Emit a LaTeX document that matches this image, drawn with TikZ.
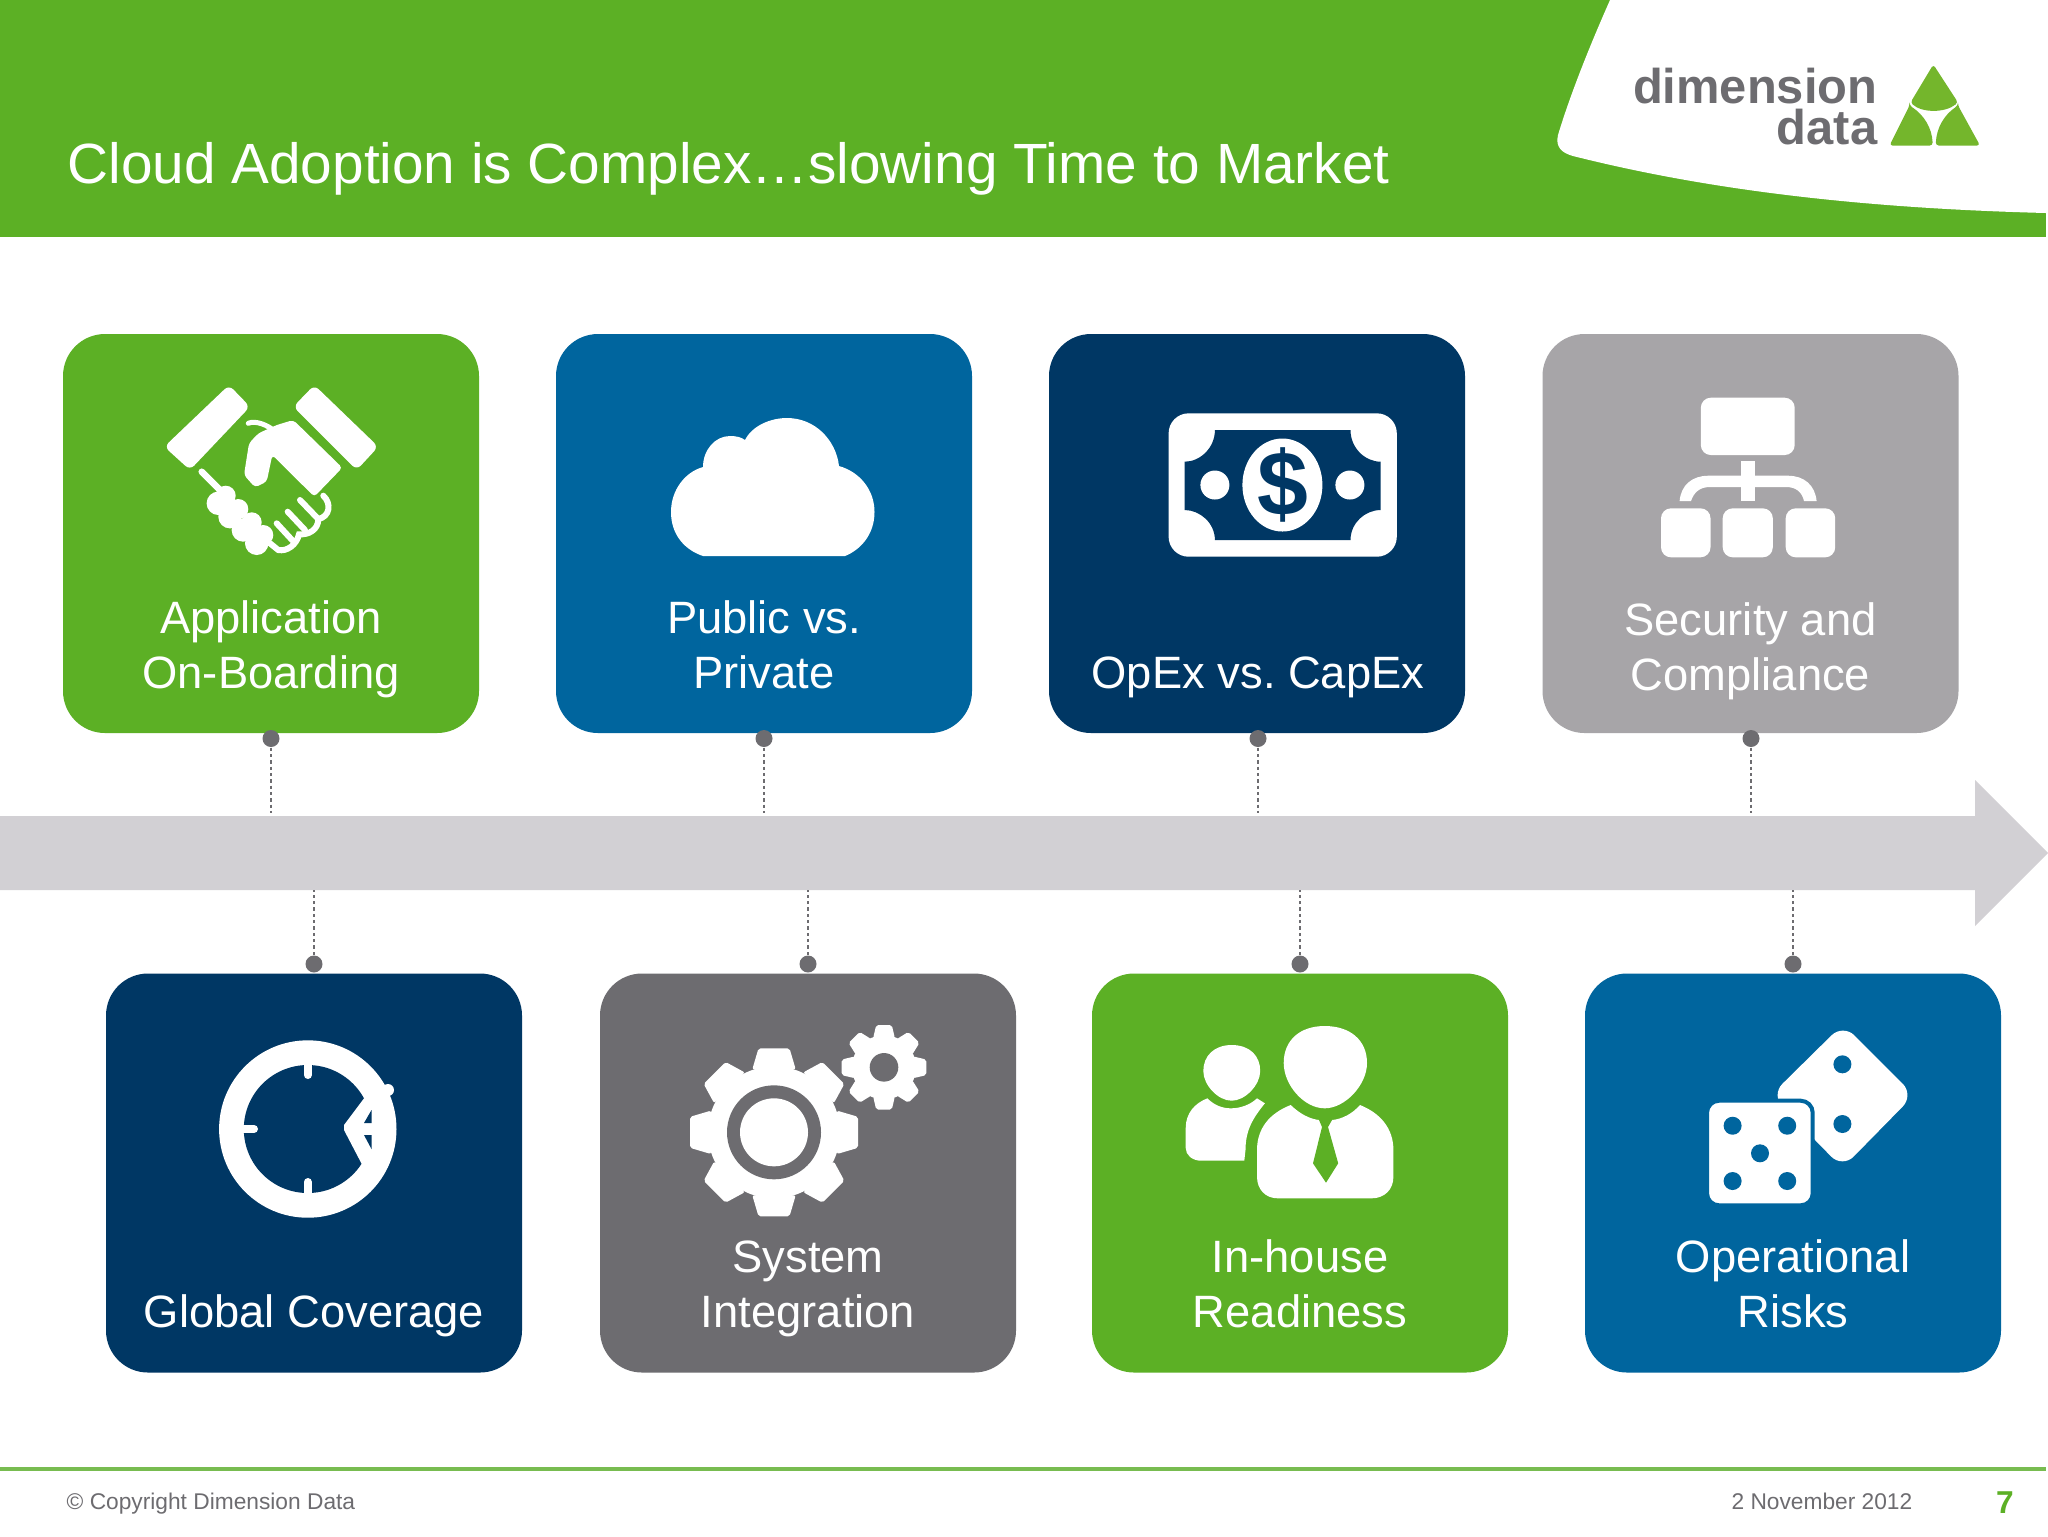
\documentclass[tikz,border=0pt]{standalone}
\usepackage{fontspec}
\setmainfont{Liberation Sans}
\usepackage{tikz}
\definecolor{ddgreen}{HTML}{5CB025}
\definecolor{ddlogo}{HTML}{74B62C}
\definecolor{ddline}{HTML}{78BC50}
\definecolor{ddblue}{HTML}{00659E}
\definecolor{ddnavy}{HTML}{003764}
\definecolor{ddsilver}{HTML}{A7A5A8}
\definecolor{ddgrey}{HTML}{6D6C70}
\definecolor{ddarrow}{HTML}{D2D0D4}
\newcommand{\gearicon}[5]{%
  \fill[white] (#1,#2) circle [radius=#3];
  \foreach \a in {0,45,...,315}
    \fill[white,shift={(#1,#2)},rotate=\a,rounded corners=0.2mm]
      (#3-3,-#5*1.4) -- (#4,-#5) -- (#4,#5) -- (#3-3,#5*1.4) -- cycle;
}

\begin{document}
\begin{tikzpicture}[x=0.1mm,y=-0.1mm,
        card/.style = {rectangle, rounded corners=4.2mm, minimum width=41.6mm, minimum height=39.9mm, inner sep=0pt},
        cardtext/.style = {text=white, align=center, inner sep=0pt, font=\fontsize{12.9}{15.55}\selectfont},
        dot/.style = {circle, fill=ddgrey, minimum size=1.7mm, inner sep=0pt},
        link/.style = {ddgrey, line width=0.6pt, dash pattern=on 0.9pt off 0.9pt},
        foot/.style = {text=ddgrey, inner sep=0pt, font=\fontsize{6.47}{8}\selectfont},
        finger/.style = {white, line width=0.6mm, line cap=round}]
        \useasboundingbox (0,0) rectangle (2048,1536);
        \fill[white] (0,0) rectangle (2048,1536);

        \fill[ddgreen] (0,0) rectangle (2046,237);
        \fill[white] (1610,0) .. controls (1590,45) and (1570,95) .. (1558,135) .. controls (1555,147) and (1562,153) .. (1573,156) .. controls (1700,188) and (1850,208) .. (2046,213) -- (2046,0) -- cycle;
        \node[anchor=base west, text=white, inner sep=0pt, font=\fontsize{16.14}{19}\selectfont] (title) at (67,183) {Cloud Adoption is Complex…slowing Time to Market};
        \node[anchor=east, align=right, text=ddgrey, inner sep=0pt, font=\fontsize{13.9}{11.66}\bfseries\selectfont] (logo) at (1878,115.3) {\strut\smash{dimension}\\\strut\smash{data}};
        \fill[ddlogo, rounded corners=0.3mm] (1933.3,64.5) -- (1958,102.5) .. controls (1945,113) and (1922,113) .. (1910.5,102.5) -- cycle;
        \fill[ddlogo, rounded corners=0.3mm] (1909.5,105.5) -- (1889.5,145.5) -- (1932.7,145.5) .. controls (1932,128) and (1924,115) .. (1909.5,105.5) -- cycle;
        \fill[ddlogo, rounded corners=0.3mm] (1958,105.5) -- (1980,145.5) -- (1935.7,145.5) .. controls (1936.5,128) and (1944,115) .. (1958,105.5) -- cycle;

        \node[card, fill=ddgreen] (c1) at (271,533.5) {};
        \node[card, fill=ddblue] (c2) at (764,533.5) {};
        \node[card, fill=ddnavy] (c3) at (1257,533.5) {};
        \node[card, fill=ddsilver] (c4) at (1750.5,533.5) {};
        \node[card, fill=ddnavy] (c5) at (314,1173) {};
        \node[card, fill=ddgrey] (c6) at (808,1173) {};
        \node[card, fill=ddgreen] (c7) at (1300,1173) {};
        \node[card, fill=ddblue] (c8) at (1793,1173) {};

        \node[cardtext] (t1) at (271,650) {\strut Application\\\strut On-Boarding};
        \node[cardtext] (t2) at (764,650) {\strut Public vs.\\\strut Private};
        \node[cardtext] (t3) at (1258,678) {\strut OpEx vs.\ CapEx};
        \node[cardtext] (t4) at (1750.5,652) {\strut Security and\\\strut Compliance};
        \node[cardtext] (t5) at (314,1317) {\strut Global Coverage};
        \node[cardtext] (t6) at (808,1289) {\strut System\\\strut Integration};
        \node[cardtext] (t7) at (1300,1289) {\strut In-house\\\strut Readiness};
        \node[cardtext] (t8) at (1793,1289) {\strut Operational\\\strut Risks};

        \fill[ddarrow] (0,816) -- (1975,816) -- (1975,780) -- (2048,853) -- (1975,926) -- (1975,890) -- (0,890) -- cycle;

        \node[dot] (d1) at (271,738.5) {};
        \node[dot] (d2) at (764,738.5) {};
        \node[dot] (d3) at (1258,738.5) {};
        \node[dot] (d4) at (1751,738.5) {};
        \node[dot] (d5) at (314,964) {};
        \node[dot] (d6) at (808,964) {};
        \node[dot] (d7) at (1300,964) {};
        \node[dot] (d8) at (1793,964) {};
        \coordinate (a1) at (271,813);
        \coordinate (a2) at (764,813);
        \coordinate (a3) at (1258,813);
        \coordinate (a4) at (1751,813);
        \coordinate (a5) at (314,890);
        \coordinate (a6) at (808,890);
        \coordinate (a7) at (1300,890);
        \coordinate (a8) at (1793,890);
        \draw[link] (d1) -- (a1);
        \draw[link] (d2) -- (a2);
        \draw[link] (d3) -- (a3);
        \draw[link] (d4) -- (a4);
        \draw[link] (d5) -- (a5);
        \draw[link] (d6) -- (a6);
        \draw[link] (d7) -- (a7);
        \draw[link] (d8) -- (a8);

        % handshake
        \fill[white, rounded corners=0.6mm] (229,385) -- (250,406.7) -- (190,470) -- (164.3,446.7) -- cycle;
        \fill[white, rounded corners=0.6mm] (314.3,385) -- (293.3,406.7) -- (356.7,470) -- (378.3,446.7) -- cycle;
        \fill[white, rounded corners=0.35mm] (293.3,420) -- (342.3,467.7) -- (314.3,496.7) -- (272.3,455) -- (266.7,481.7) -- (255,487.3) -- (244,475) -- (249,443.3) -- (258.3,433.3) -- (276.7,425) -- cycle;
        \draw[white, line width=0.5mm, line cap=round] (248.3,423.3) .. controls (255,420) and (268.3,425) .. (275,431.7);
        \draw[white, line width=0.65mm, line cap=round] (201.7,471.7) -- (220,490);
        \fill[white] (218.3,503.3) circle [radius=11.7];
        \fill[white] (230,516.7) circle [radius=11.7];
        \fill[white] (243.3,530) circle [radius=11.7];
        \fill[white] (256.7,543.3) circle [radius=11.7];
        \fill[white] (225.7,495.7) circle [radius=10];
        \fill[white] (238.3,509) circle [radius=10];
        \fill[white] (251.7,522.3) circle [radius=10];
        \fill[white] (263.3,535) circle [radius=10];
        \draw[finger] (323.3,495.7) .. controls (331.7,503.3) and (330,516.7) .. (318.3,519) .. controls (318.3,530) and (308.3,535) .. (299,534.3) .. controls (296.7,545) and (286.7,551.7) .. (278.3,550) -- (270,543.3);
        \draw[finger] (300,500) -- (318.3,519);
        \draw[finger] (287.7,511.7) -- (305,530);
        \draw[finger] (276.7,523.3) -- (293,541);

        % cloud
        \fill[white] (703,556) .. controls (685,550) and (671,535) .. (671,512) .. controls (671,490) and (685,472) .. (703,467) .. controls (703,450) and (715,436) .. (730,436) .. controls (736,436) and (741,437) .. (745,440) .. controls (752,426) and (770,418) .. (787,418) .. controls (815,418) and (836,440) .. (839,466) .. controls (860,472) and (874.5,490) .. (874.5,512) .. controls (874.5,535) and (860,550) .. (845,556) -- cycle;

        % banknote
        \fill[white, rounded corners=2mm] (1168.6,413.3) rectangle (1396.8,556.7);
        \fill[ddnavy] (1214.9,430) -- (1350.5,430) .. controls (1350.5,448) and (1365,461.7) .. (1380.7,461.7) -- (1380.7,510) .. controls (1365,510) and (1350.5,523) .. (1350.5,540) -- (1214.9,540) .. controls (1214.9,523) and (1200,510) .. (1184.6,510) -- (1184.6,461.7) .. controls (1200,461.7) and (1214.9,448) .. (1214.9,430) -- cycle;
        \fill[white] (1214.9,485) circle [radius=14.5];
        \fill[white] (1349.9,485) circle [radius=14.5];
        \fill[white] (1282.4,485) ellipse [x radius=40, y radius=46.5];
        \node[text=ddnavy, inner sep=0pt, font=\fontsize{26}{26}\bfseries\selectfont] (dollar) at (1282.4,485) {\$};

        % org chart
        \fill[white, rounded corners=1mm] (1700.8,397.7) rectangle (1794.7,455);
        \fill[white, rounded corners=1mm] (1661,508.3) rectangle (1710.5,557.3);
        \fill[white, rounded corners=1mm] (1722.7,508.3) rectangle (1772.8,557.3);
        \fill[white, rounded corners=1mm] (1785.7,508.3) rectangle (1835.2,557.3);
        \fill[white] (1740.7,461) rectangle (1754.8,501);
        \fill[white] (1679.6,501) .. controls (1681,485) and (1692,475.7) .. (1708.5,475.7) -- (1788,475.7) .. controls (1804,475.7) and (1815,485) .. (1816.6,501) -- (1804,501) .. controls (1802,492) and (1796,487) .. (1786,487) -- (1710,487) .. controls (1700,487) and (1694,492) .. (1691,501) -- cycle;

        % clock
        \fill[white] (307.8,1129) circle [radius=88.7];
        \fill[ddnavy] (307.8,1129) circle [radius=64];
        \fill[white] (364,1098.3) -- (344,1125) -- (344,1130) -- (362.3,1165) -- (385,1165) -- (390,1090) -- cycle;
        \fill[ddnavy] (364,1123) -- (371.5,1110) -- (371.5,1123) -- cycle;
        \fill[ddnavy] (364,1135) -- (371.5,1135) -- (371.5,1149) -- cycle;
        \fill[white] (388,1090) circle [radius=6];
        \draw[white, line width=0.8mm, line cap=round] (307.8,1060) -- (307.8,1075);
        \draw[white, line width=0.8mm, line cap=round] (238,1129) -- (254,1129);
        \draw[white, line width=0.8mm, line cap=round] (307.8,1198) -- (307.8,1182);

        % gears
        \gearicon{774}{1132.3}{66}{84}{15.5}
        \fill[ddgrey] (774,1132.3) circle [radius=47];
        \fill[white] (774,1132.3) circle [radius=34];
        \gearicon{884}{1067.3}{32}{42.3}{7.8}
        \fill[ddgrey] (884,1067.3) circle [radius=14.3];

        % people
        \fill[white] (1324.7,1026) .. controls (1350,1026) and (1367,1040) .. (1367,1063) .. controls (1367,1085) and (1345,1108.3) .. (1324.7,1108.3) .. controls (1304,1108.3) and (1283.7,1085) .. (1283.7,1063) .. controls (1283.7,1040) and (1300,1026) .. (1324.7,1026) -- cycle;
        \fill[white] (1290.7,1105) .. controls (1300,1114) and (1310,1119) .. (1319,1120) -- (1332,1120) .. controls (1342,1119) and (1352,1114) .. (1360,1105) .. controls (1380,1113) and (1393.4,1128) .. (1393.4,1150) -- (1393.4,1176.7) .. controls (1393.4,1190) and (1384,1198.3) .. (1371.7,1198.3) -- (1277.8,1198.3) .. controls (1266,1198.3) and (1257,1190) .. (1257,1176.7) -- (1257,1150) .. controls (1257,1128) and (1270,1113) .. (1290.7,1105) -- cycle;
        \fill[ddgreen] (1319,1120) -- (1332,1120) -- (1328,1127) -- (1338.2,1163.3) -- (1326,1182.7) -- (1313,1163.3) -- (1322,1127) -- cycle;
        \fill[white] (1231.7,1045) .. controls (1250,1045) and (1260.2,1056) .. (1260.2,1071) .. controls (1260.2,1085) and (1245,1100.7) .. (1231.7,1100.7) .. controls (1218,1100.7) and (1203.3,1085) .. (1203.3,1071) .. controls (1203.3,1056) and (1214,1045) .. (1231.7,1045) -- cycle;
        \fill[white] (1207.4,1098.3) .. controls (1214,1105) and (1222,1108.3) .. (1230.8,1108.3) .. controls (1240,1108.3) and (1250,1105) .. (1257,1098.3) -- (1264.9,1103.3) .. controls (1253,1118) and (1245.5,1130) .. (1245.5,1150) -- (1244.3,1160.7) -- (1201.5,1160.7) .. controls (1192,1160.7) and (1185.7,1155) .. (1185.7,1148) -- (1185.7,1128) .. controls (1185.7,1113) and (1195,1103) .. (1207.4,1098.3) -- cycle;

        % dice
        \fill[white, rounded corners=1.6mm] (1843,1024) -- (1914,1095) -- (1842.4,1168) -- (1771,1095) -- cycle;
        \fill[ddblue] (1842.4,1064.3) circle [radius=9];
        \fill[ddblue] (1842.4,1124) circle [radius=9];
        \fill[white, draw=ddblue, line width=0.4mm, rounded corners=1.2mm] (1707,1100.7) rectangle (1812.7,1205.3);
        \fill[ddblue] (1732.6,1125.7) circle [radius=9];
        \fill[ddblue] (1787.2,1125.7) circle [radius=9];
        \fill[ddblue] (1760,1153.3) circle [radius=9];
        \fill[ddblue] (1732.6,1181) circle [radius=9];
        \fill[ddblue] (1787.2,1181) circle [radius=9];

        \fill[ddline] (0,1467) rectangle (2046,1471);
        \node[foot, anchor=base west] (copy) at (66,1509) {© Copyright Dimension Data};
        \node[foot, anchor=base east] (date) at (1913,1509) {2 November 2012};
        \node[anchor=base, text=ddgreen, inner sep=0pt, font=\fontsize{9}{10}\bfseries\selectfont] (page) at (2005,1513) {7};
    \end{tikzpicture}
\end{document}
